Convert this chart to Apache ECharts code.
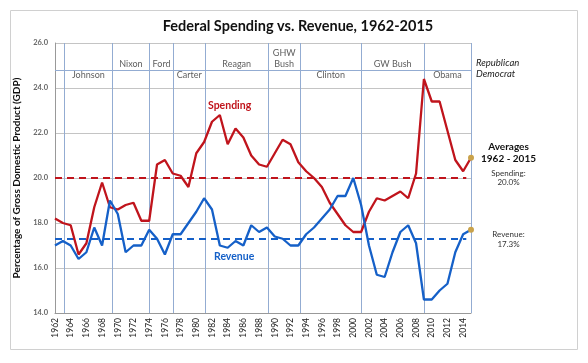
<!DOCTYPE html>
<html><head><meta charset="utf-8">
<script src="https://cdn.jsdelivr.net/npm/echarts@6/dist/echarts.min.js"></script>
<style>html,body{margin:0;padding:0;background:#fff}#c{width:588px;height:363px}</style>
</head><body><div id="c"></div>
<script>
const years = [];
for (let y = 1962; y <= 2015; y++) years.push(y);
const spending = [18.2,18.0,17.9,16.6,17.1,18.7,19.8,18.7,18.6,18.8,
  18.9,18.1,18.1,20.6,20.8,20.2,20.1,19.6,21.1,21.6,
  22.5,22.8,21.5,22.2,21.8,21.0,20.6,20.5,21.1,21.7,
  21.5,20.7,20.3,20.0,19.6,18.9,18.4,17.9,17.6,17.6,
  18.5,19.1,19.0,19.2,19.4,19.1,20.2,24.4,23.4,23.4,
  22.1,20.8,20.3,20.9];
const revenue = [17.0,17.2,17.0,16.4,16.7,17.8,17.0,19.0,18.4,16.7,
  17.0,17.0,17.7,17.3,16.6,17.5,17.5,18.0,18.5,19.1,
  18.6,17.0,16.9,17.2,17.0,17.9,17.6,17.8,17.4,17.3,
  17.0,17.0,17.5,17.8,18.2,18.6,19.2,19.2,20.0,18.8,
  17.0,15.7,15.6,16.7,17.6,17.9,17.1,14.6,14.6,15.0,
  15.3,16.7,17.5,17.7];
const spendingAvg = 20.0;
const revenueAvg = 17.3;
const presidents = ['Johnson','Nixon','Ford','Carter','Reagan','GHW\nBush','Clinton','GW Bush','Obama'];
const parties = ['D','R','R','D','R','R','D','R','D'];
const termBounds = [1963.2,1969.3,1974.05,1977.1,1981.1,1989.2,1993.2,2001.05,2009.0,2015];

const FONT = 'Lato';
const RED = '#c0141c', BLUE = '#1560c8', GOLD = '#c9a24a', VLINE = '#93acd2';

const lastIdx = years.length - 1;
function mkData(vals) {
  return vals.map((v, i) => i === lastIdx
    ? {value:[years[i], v], symbol:'circle', symbolSize:6, itemStyle:{color:GOLD}}
    : {value:[years[i], v]});
}

const vLines = termBounds.map(b => [{coord:[b,14]},{coord:[b,26]}]);
vLines.push([{coord:[1962,24.8]},{coord:[2015,24.8]}]);

const presLabels = presidents.map((p, i) => {
  const mid = (termBounds[i] + termBounds[i+1]) / 2;
  let yv = parties[i] === 'R' ? 25.08 : 24.58;
  if (p.indexOf('\n') >= 0) yv = 25.32;
  return {value:[mid, yv], name:p};
});

const chart = echarts.init(document.getElementById('c'));
chart.setOption({
  animation:false,
  textStyle:{fontFamily:FONT},
  title:{text:'Federal Spending vs. Revenue, 1962-2015', left:293, top:14, textAlign:'center',
    textStyle:{fontFamily:FONT, fontSize:14.5, fontWeight:'bold', color:'#111'}},
  grid:{left:55, right:117, top:43, bottom:50},
  xAxis:{type:'value', min:1962, max:2015, interval:2,
    axisLine:{show:true, lineStyle:{color:'#999'}},
    axisTick:{show:false},
    splitLine:{show:false},
    axisLabel:{rotate:90, fontSize:8.5, color:'#222', margin:5, showMaxLabel:false,
      formatter:v => String(v)}},
  yAxis:{type:'value', min:14, max:26, interval:2,
    name:'Percentage of Gross Domestic Product (GDP)', nameLocation:'middle', nameGap:30,
    nameTextStyle:{fontFamily:FONT, fontSize:10, fontWeight:'bold', color:'#111'},
    axisLine:{show:true, lineStyle:{color:'#999'}},
    axisTick:{show:false},
    splitLine:{lineStyle:{color:'#c4c4c4', width:1}},
    axisLabel:{fontSize:7.5, fontWeight:'bold', color:'#666', margin:7, formatter:v => v.toFixed(1)}},
  series:[
    {type:'line', data:[], silent:true,
      markLine:{silent:true, symbol:'none', label:{show:false},
        lineStyle:{color:VLINE, width:1, type:'solid'}, data:vLines}},
    {type:'scatter', data:presLabels, symbolSize:0, silent:true,
      label:{show:true, position:'inside', formatter:p => p.name, fontFamily:FONT, fontSize:9, color:'#333', lineHeight:11}},
    {name:'Spending', type:'line', data:mkData(spending), showSymbol:true, symbol:'none',
      lineStyle:{color:RED, width:2.3}, itemStyle:{color:RED}, z:5,
      markLine:{silent:true, symbol:'none', label:{show:false},
        lineStyle:{color:RED, width:2, type:[7,5]},
        data:[[{coord:[1962, spendingAvg]},{coord:[2014.4, spendingAvg]}]]}},
    {name:'Revenue', type:'line', data:mkData(revenue), showSymbol:true, symbol:'none',
      lineStyle:{color:BLUE, width:2.3}, itemStyle:{color:BLUE}, z:5,
      markLine:{silent:true, symbol:'none', label:{show:false},
        lineStyle:{color:BLUE, width:1.8, type:[7,5]},
        data:[[{coord:[1962, revenueAvg]},{coord:[2014.4, revenueAvg]}]]}}
  ],
  graphic:[
    {type:'rect', shape:{x:10.5, y:10.5, width:567, height:339}, style:{fill:'none', stroke:'#d0d0d0', lineWidth:1}, z:-10},
    {type:'text', left:208, top:100, style:{text:'Spending', fill:RED, font:'bold 10.5px '+FONT}},
    {type:'text', left:214, top:251, style:{text:'Revenue', fill:BLUE, font:'bold 10.5px '+FONT}},
    {type:'text', left:476, top:58, style:{text:'Republican', fill:'#222', font:'italic 9.5px '+FONT}},
    {type:'text', left:476, top:69, style:{text:'Democrat', fill:'#222', font:'italic 9.5px '+FONT}},
    {type:'group', left:481, top:142, children:[
      {type:'text', x:31, y:0, style:{text:'Averages', fill:'#111', font:'bold 10px '+FONT, textAlign:'center'}},
      {type:'text', x:31, y:12, style:{text:'1962 - 2015', fill:'#111', font:'bold 10px '+FONT, textAlign:'center'}},
      {type:'text', x:31, y:27, style:{text:'Spending:', fill:'#333', font:'8px '+FONT, textAlign:'center'}},
      {type:'text', x:31, y:36, style:{text:'20.0%', fill:'#333', font:'8px '+FONT, textAlign:'center'}},
      {type:'text', x:31, y:88, style:{text:'Revenue:', fill:'#333', font:'8px '+FONT, textAlign:'center'}},
      {type:'text', x:31, y:98, style:{text:'17.3%', fill:'#333', font:'8px '+FONT, textAlign:'center'}}
    ]}
  ]
});
</script></body></html>
